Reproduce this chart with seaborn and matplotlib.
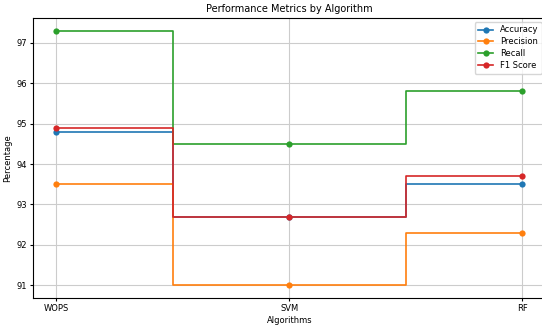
import matplotlib
matplotlib.use('Agg')
import matplotlib.pyplot as plt
import seaborn as sns
import pandas as pd

algorithms = ["WOPS", "SVM", "RF"]
metrics = ["Accuracy", "Precision", "Recall", "F1 Score"]
accuracy = [94.8, 92.7, 93.5]
precision = [93.5, 91.0, 92.3]
recall = [97.3, 94.5, 95.8]
f1_score = [94.9, 92.7, 93.7]

values = {"Accuracy": accuracy, "Precision": precision,
          "Recall": recall, "F1 Score": f1_score}
colors = sns.color_palette("tab10", 4)

fig = plt.figure(figsize=(5.42, 3.26), dpi=100)
ax = fig.add_axes([0.061, 0.086, 0.946, 0.859])

for metric, color in zip(metrics, colors):
    df = pd.DataFrame({"Algorithm": algorithms, "Value": values[metric]})
    sns.lineplot(data=df, x="Algorithm", y="Value", ax=ax, color=color,
                 marker="o", markersize=4.5, markeredgewidth=0, linewidth=1.2,
                 drawstyle="steps-mid", label=metric)

ax.grid(True, color="#cccccc", linewidth=0.8)
ax.set_title("Performance Metrics by Algorithm", fontsize=7, pad=4)
ax.set_xlabel("Algorithms", fontsize=6, labelpad=2)
ax.set_ylabel("Percentage", fontsize=6, labelpad=3)
ax.tick_params(labelsize=6, length=2.5, pad=2)
ax.legend(loc="upper right", fontsize=6, framealpha=0.8, handlelength=1.8,
          borderpad=0.4, labelspacing=0.35)
for s in ax.spines.values():
    s.set_linewidth(0.8)

plt.savefig("out.png", dpi=100)
plt.close()
